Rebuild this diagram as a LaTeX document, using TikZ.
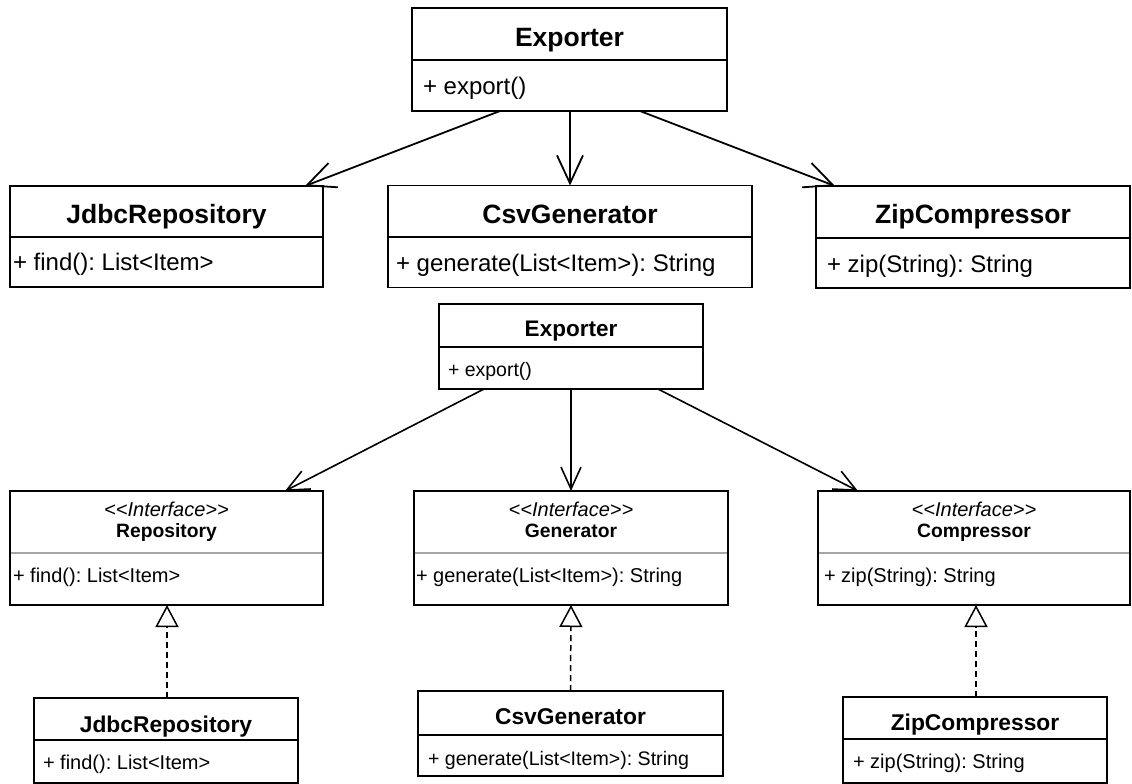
\documentclass[tikz,border=0pt]{standalone}
\usepackage{fontspec}
\setmainfont{Liberation Sans}
\usetikzlibrary{arrows.meta,calc}
\frenchspacing
\newcommand{\fs}[1]{\fontsize{#1}{#1}\selectfont}
\tikzset{
  box/.style={draw=black, line width=1.8pt, fill=white, anchor=north west, inner sep=0pt, outer sep=0pt},
  divider/.style={draw=black, line width=1.8pt},
  greydiv/.style={draw=black!35, line width=1.5pt},
  txt/.style={inner sep=0pt, outer sep=0pt},
  ttl/.style={txt, anchor=base},
  mth/.style={txt, anchor=base west},
  assocA/.style={draw=black, line width=1.8pt, -{Straight Barb[length=28pt,width=26pt]}},
  assocB/.style={draw=black, line width=1.6pt, -{Straight Barb[length=22pt,width=20pt]}},
  impl/.style={draw=black, line width=1.5pt, dash pattern=on 6pt off 4pt, -{Triangle[open,length=22pt,width=23pt]}},
}
\begin{document}
\begin{tikzpicture}[x=1pt,y=-1pt]
\useasboundingbox (0,0) rectangle (1132,784);

% ---------------- upper diagram ----------------
\node[box, minimum width=315pt, minimum height=103pt] (exp1) at (412,8) {};
\draw[divider] (412,60) -- (727,60);
\node[ttl] (exp1t) at (569.5,47) {\fs{26.5}\bfseries Exporter};
\node[mth] (exp1m) at (423,95) {\fs{24}+ export()};

\node[box, minimum width=313pt, minimum height=101pt] (jdbc1) at (10,186) {};
\draw[divider] (10,237) -- (323,237);
\node[ttl] (jdbc1t) at (166.5,223) {\fs{26.5}\bfseries JdbcRepository};
\node[mth] (jdbc1m) at (13,270) {\fs{24}+ find(): List<Item>};

\node[box, minimum width=364pt, minimum height=102pt] (csv1) at (388,185.5) {};
\draw[divider] (388,237) -- (752,237);
\node[ttl] (csv1t) at (570,223) {\fs{26.5}\bfseries CsvGenerator};
\node[mth] (csv1m) at (396,271) {\fs{24}+ generate(List<Item>): String};

\node[box, minimum width=314pt, minimum height=102pt] (zip1) at (816,186) {};
\draw[divider] (816,238) -- (1130,238);
\node[ttl] (zip1t) at (973,223) {\fs{26.5}\bfseries ZipCompressor};
\node[mth] (zip1m) at (827,272) {\fs{24}+ zip(String): String};

\draw[assocA] ($(exp1.south west)+(88,0)$) -- ($(jdbc1.north west)+(295,0)$);
\draw[assocA] ($(exp1.south west)+(158,0)$) -- ($(csv1.north west)+(182,0)$);
\draw[assocA] ($(exp1.south west)+(228,0)$) -- ($(zip1.north west)+(19,0)$);

% ---------------- lower diagram ----------------
\node[box, minimum width=264pt, minimum height=85pt] (exp2) at (439,304) {};
\draw[divider] (439,347) -- (703,347);
\node[ttl] (exp2t) at (571,336) {\fs{22.5}\bfseries Exporter};
\node[mth] (exp2m) at (448,376) {\fs{19.5}+ export()};

% interfaces
\node[box, minimum width=313pt, minimum height=114pt] (repo) at (10,491) {};
\draw[greydiv] (11,553) -- (322,553);
\node[ttl] (repos) at (166.5,516) {\fs{20}\itshape <{}<Interface>{}>};
\node[ttl] (repot) at (166.5,537) {\fs{19.3}\bfseries Repository};
\node[mth] (repom) at (13,582) {\fs{20}+ find(): List<Item>};

\node[box, minimum width=314pt, minimum height=114pt] (gen) at (414,491) {};
\draw[greydiv] (415,553) -- (727,553);
\node[ttl] (gens) at (571,516) {\fs{20}\itshape <{}<Interface>{}>};
\node[ttl] (gent) at (571,537) {\fs{19.3}\bfseries Generator};
\node[mth] (genm) at (416,582) {\fs{20}+ generate(List<Item>): String};

\node[box, minimum width=312pt, minimum height=114pt] (comp) at (818,491) {};
\draw[greydiv] (819,553) -- (1129,553);
\node[ttl] (comps) at (974,516) {\fs{20}\itshape <{}<Interface>{}>};
\node[ttl] (compt) at (974,537) {\fs{19.3}\bfseries Compressor};
\node[mth] (compm) at (824,582) {\fs{20}+ zip(String): String};

\draw[assocB] ($(exp2.south west)+(45,0)$) -- ($(repo.north west)+(275,0)$);
\draw[assocB] ($(exp2.south west)+(132,0)$) -- ($(gen.north west)+(157,0)$);
\draw[assocB] ($(exp2.south west)+(219,0)$) -- ($(comp.north west)+(40,0)$);

% implementations
\node[box, minimum width=264pt, minimum height=85pt] (jdbc3) at (34,698) {};
\draw[divider] (34,740) -- (298,740);
\node[ttl] (jdbc3t) at (166,732) {\fs{22.8}\bfseries JdbcRepository};
\node[mth] (jdbc3m) at (43,769) {\fs{20}+ find(): List<Item>};

\node[box, minimum width=305pt, minimum height=85pt] (csv3) at (418,691) {};
\draw[divider] (418,735) -- (723,735);
\node[ttl] (csv3t) at (570.5,724) {\fs{22.8}\bfseries CsvGenerator};
\node[mth] (csv3m) at (428,765) {\fs{19.6}+ generate(List<Item>): String};

\node[box, minimum width=264pt, minimum height=86pt] (zip3) at (843,697) {};
\draw[divider] (843,739) -- (1107,739);
\node[ttl] (zip3t) at (975,730) {\fs{22.8}\bfseries ZipCompressor};
\node[mth] (zip3m) at (853,768) {\fs{20}+ zip(String): String};

\draw[impl] ($(jdbc3.north west)+(133,0)$) -- ($(repo.south west)+(157,0)$);
\draw[impl] (csv3.north) -- ($(gen.south west)+(157,0)$);
\draw[impl] ($(zip3.north west)+(133,0)$) -- ($(comp.south west)+(158,0)$);
\end{tikzpicture}
\end{document}
